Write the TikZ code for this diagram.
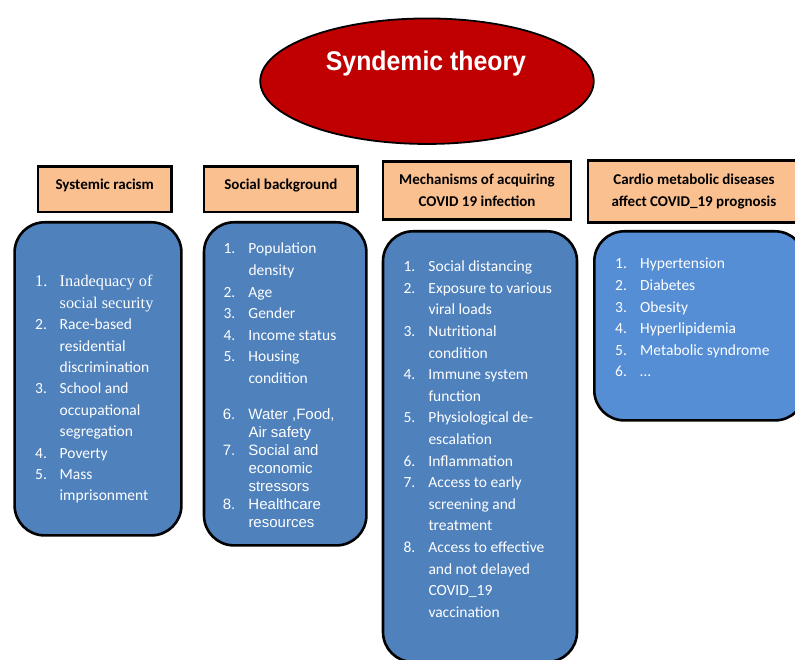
\documentclass[tikz,border=0pt]{standalone}
\usepackage{fontspec}
\setmainfont{Carlito}
\newfontfamily\arialfont{Liberation Sans}
\newfontfamily\seriffont{Liberation Serif}
\usetikzlibrary{shapes.geometric}
\definecolor{theoryred}{HTML}{C00000}
\definecolor{headorange}{HTML}{FAC090}
\definecolor{listblue}{HTML}{4F81BD}
\definecolor{listlight}{HTML}{558ED5}
\newcommand\firstitem{\seriffont\fontsize{16.3}{21.4}\selectfont}
\tikzset{
	header/.style={draw,line width=2.6pt,fill=headorange,align=center,inner sep=0pt,
		font=\bfseries\fontsize{15}{22}\selectfont},
	listbox/.style={draw,line width=2.6pt,fill=listblue,rounded corners=30pt},
	items/.style={anchor=base west,inner sep=0pt,text=white,
		font=\fontsize{15.5}{21.6}\selectfont}
}
\begin{document}
\begin{tikzpicture}[x=1pt,y=-1pt]
	\useasboundingbox (0,0) rectangle (795,660);
	\clip (0,0) rectangle (795,660);
	\node[ellipse,draw,line width=1.8pt,fill=theoryred,minimum width=333.5pt,
		minimum height=125.5pt] (theory) at (427,81.2) {};
	\node[anchor=base,text=white,font=\arialfont\bfseries\fontsize{27}{30}\selectfont]
		(title) at (426,71) {\scalebox{0.92}[1]{Syndemic theory}};

	\node[header,minimum width=133.4pt,minimum height=45.7pt,text height=10pt,text depth=10pt]
		(racism) at (104.7,189.2) {Systemic racism};
	\node[header,minimum width=153.7pt,minimum height=45.7pt,text height=10pt,text depth=10pt]
		(social) at (280.85,189.2) {Social background};
	\node[header,minimum width=188pt,minimum height=58.4pt]
		(mechanism) at (477,190.5) {Mechanisms of acquiring\\COVID 19 infection};
	\node[header,minimum width=212pt,minimum height=62pt]
		(cardio) at (694,191.65) {Cardio metabolic diseases\\affect COVID\_19 prognosis};

	\node[listbox,minimum width=166.8pt,minimum height=313.1pt] (racismbox) at (98,378.85) {};
	\node[listbox,minimum width=162.4pt,minimum height=323.1pt] (socialbox) at (285.2,383.85) {};
	\node[listbox,minimum width=194pt,minimum height=430.7pt] (mechanismbox) at (480,446.65) {};
	\node[listbox,fill=listlight,minimum width=210.7pt,minimum height=189.1pt]
		(cardiobox) at (699.65,325.85) {};

	\node[items,font=\fontsize{15.5}{21.4}\selectfont] (racismlist) at (35,287) {%
		\begin{tabular}[t]{@{}p{24.5pt}@{}l@{}}
			\firstitem 1. & \firstitem Inadequacy of\\
			   & \firstitem social security\\
			2. & Race-based\\
			   & residential\\
			   & discrimination\\
			3. & School and\\
			   & occupational\\
			   & segregation\\
			4. & Poverty\\
			5. & Mass\\
			   & imprisonment
		\end{tabular}};
	\node[items] (sociallist) at (223.3,254) {%
		\begin{tabular}[t]{@{}p{25pt}@{}l@{}}
			1. & Population\\
			   & density\\
			2. & Age\\
			3. & Gender\\
			4. & Income status\\
			5. & Housing\\
			   & condition
		\end{tabular}};
	\node[items,font=\arialfont\fontsize{15}{18}\selectfont] (socialmore) at (222.7,419.3) {%
		\begin{tabular}[t]{@{}p{25.6pt}@{}l@{}}
			6. & Water ,Food,\\
			   & Air safety\\
			7. & Social and\\
			   & economic\\
			   & stressors\\
			8. & Healthcare\\
			   & resources
		\end{tabular}};
	\node[items] (mechanismlist) at (403.3,271.7) {%
		\begin{tabular}[t]{@{}p{25pt}@{}l@{}}
			1. & Social distancing\\
			2. & Exposure to various\\
			   & viral loads\\
			3. & Nutritional\\
			   & condition\\
			4. & Immune system\\
			   & function\\
			5. & Physiological de-\\
			   & escalation\\
			6. & Inflammation\\
			7. & Access to early\\
			   & screening and\\
			   & treatment\\
			8. & Access to effective\\
			   & and not delayed\\
			   & COVID\_19\\
			   & vaccination
		\end{tabular}};
	\node[items] (cardiolist) at (615,269) {%
		\begin{tabular}[t]{@{}p{25pt}@{}l@{}}
			1. & Hypertension\\
			2. & Diabetes\\
			3. & Obesity\\
			4. & Hyperlipidemia\\
			5. & Metabolic syndrome\\
			6. & …
		\end{tabular}};
\end{tikzpicture}
\end{document}
